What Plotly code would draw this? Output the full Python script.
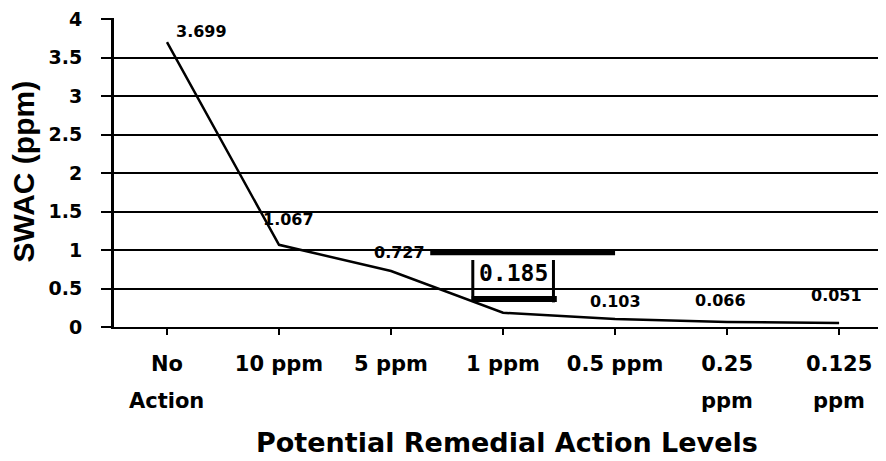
import plotly.graph_objects as go

# categories and values
levels = ["No", "10 ppm", "5 ppm", "1 ppm", "0.5 ppm", "0.25", "0.125"]
levels_second_line = ["Action", "", "", "", "", "ppm", "ppm"]
swac = [3.699, 1.067, 0.727, 0.185, 0.103, 0.066, 0.051]
value_labels = ["3.699", "1.067", "0.727", "0.185", "0.103", "0.066", "0.051"]
y_ticks = [0, 0.5, 1, 1.5, 2, 2.5, 3, 3.5, 4]
y_tick_text = ["0", "0.5", "1", "1.5", "2", "2.5", "3", "3.5", "4"]

# label offsets in pixels (x, y)
label_shift = [(35, 11), (9, 25), (8, 19), (10, 40), (0, 18), (-7, 21), (-3, 28)]

ARIAL = "Liberation Sans, Arial, sans-serif"
WIDE = "DejaVu Sans, sans-serif"
xs = list(range(len(levels)))

fig = go.Figure()
fig.add_trace(go.Scatter(
    x=xs, y=swac, mode="lines",
    line=dict(color="black", width=2.5),
    hoverinfo="skip", showlegend=False,
))

for i, (v, t) in enumerate(zip(swac, value_labels)):
    dx, dy = label_shift[i]
    big = t == "0.185"
    fig.add_annotation(
        x=xs[i], y=v, text=f"<b>{t}</b>", showarrow=False,
        xshift=dx, yshift=dy,
        font=dict(family="DejaVu Sans Mono, monospace" if big else WIDE,
                  size=23 if big else 16, color="black"),
    )

# second line of the category labels
for i, t in enumerate(levels_second_line):
    if t:
        fig.add_annotation(
            x=xs[i], y=0, yref="paper", yanchor="middle", yshift=-74,
            text=f"<b>{t}</b>", showarrow=False,
            font=dict(family=WIDE, size=21, color="black"),
        )

# axis titles
fig.add_annotation(
    x=0.5, y=0, xref="paper", yref="paper", xanchor="center", yanchor="middle",
    xshift=3, yshift=-115,
    text="<b>Potential Remedial Action Levels</b>", showarrow=False,
    font=dict(family=WIDE, size=27, color="black"),
)
fig.add_annotation(
    x=0, y=0.5, xref="paper", yref="paper", xanchor="center", yanchor="middle",
    xshift=-91, yshift=1,
    text="<b>SWAC (ppm)</b>", showarrow=False, textangle=-90,
    font=dict(family=ARIAL, size=30, color="black"),
)

# hand-drawn marks around the 1 ppm level
fig.add_shape(type="line", x0=2.35, x1=4.0, y0=0.965, y1=0.965,
              line=dict(color="black", width=5))
fig.add_shape(type="line", x0=2.73, x1=2.73, y0=0.34, y1=0.87,
              line=dict(color="black", width=3))
fig.add_shape(type="line", x0=3.45, x1=3.45, y0=0.32, y1=0.87,
              line=dict(color="black", width=3))
fig.add_shape(type="line", x0=2.72, x1=3.48, y0=0.365, y1=0.365,
              line=dict(color="black", width=6))

# the page has an 8px body margin, so everything sits 8px further in
fig.update_layout(
    width=886, height=461,
    margin=dict(l=106, r=0, t=10, b=142),
    plot_bgcolor="white", paper_bgcolor="white",
    font=dict(family=WIDE, color="black"),
    showlegend=False,
)
fig.update_xaxes(
    tickmode="array", tickvals=xs,
    ticktext=[f"<b>{t}</b>" for t in levels],
    tickfont=dict(size=21, family=WIDE),
    range=[-0.473, 6.49],
    showline=True, linecolor="black", linewidth=2,
    ticks="outside", tickson="boundaries", ticklen=6, tickwidth=2, tickcolor="black",
    ticklabelstandoff=11,
    showgrid=False, zeroline=False, automargin=False,
)
fig.update_yaxes(
    tickmode="array", tickvals=y_ticks,
    ticktext=[f"<b>{t}</b>" for t in y_tick_text],
    tickfont=dict(size=19, family=WIDE),
    range=[0, 4.013],
    showline=True, linecolor="black", linewidth=3,
    ticks="outside", ticklen=10, tickwidth=2, tickcolor="black",
    ticklabelstandoff=15, ticklabeloverflow="allow",
    showgrid=True, gridcolor="black", gridwidth=2,
    zeroline=False, automargin=False,
)

fig.write_html("out.html")
